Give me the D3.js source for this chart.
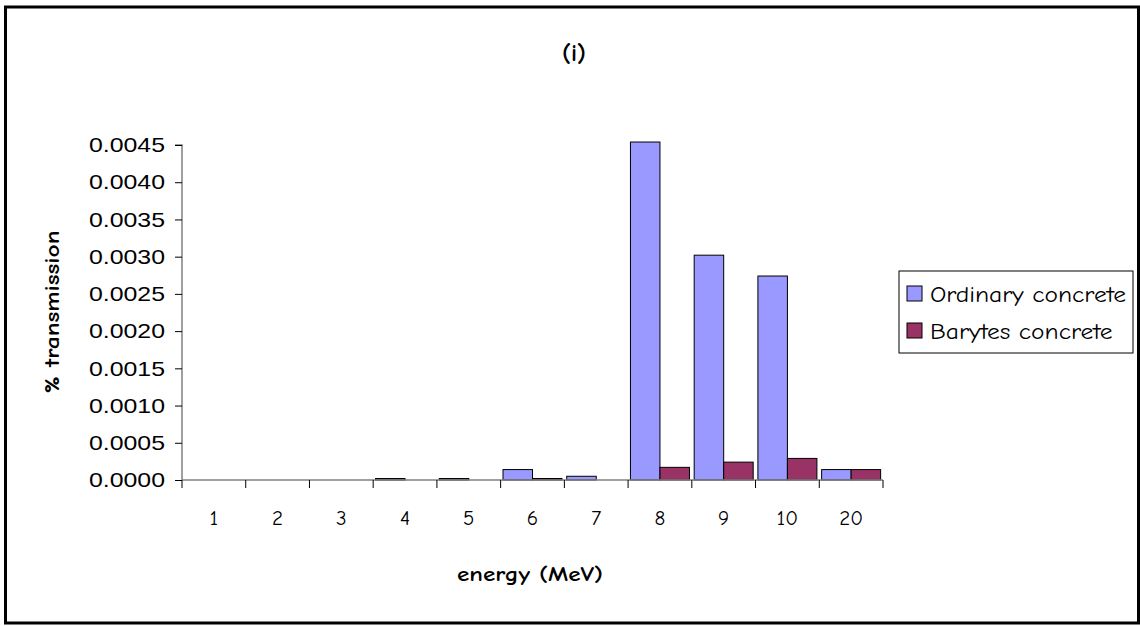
<!DOCTYPE html>
<html>
<head>
<meta charset="utf-8">
<script src="https://cdn.jsdelivr.net/npm/d3@7"></script>
<style>
  html, body { margin: 0; padding: 0; background: #fff; }
  svg { display: block; }
</style>
</head>
<body>
<svg id="chart" width="1140" height="626"></svg>
<script>
// Energy categories (MeV) and transmission values for the two concrete types
const energies = ["1", "2", "3", "4", "5", "6", "7", "8", "9", "10", "20"];
const ordinaryConcrete = [0, 0, 0, 0.00002, 0.00002, 0.00014, 0.00005, 0.00454, 0.00302, 0.00274, 0.00014];
const barytesConcrete  = [0, 0, 0, 0, 0, 0.00002, 0, 0.00017, 0.00024, 0.00029, 0.00014];
const seriesNames = ["Ordinary concrete", "Barytes concrete"];
const seriesColors = ["#9999FF", "#993366"];
const yTicks = [0, 0.0005, 0.001, 0.0015, 0.002, 0.0025, 0.003, 0.0035, 0.004, 0.0045];

const comic = "'Comic Sans MS', 'Comic Neue', 'Open Sans', sans-serif";
const arial = "'Liberation Sans', Arial, sans-serif";

const svg = d3.select("#chart");

// outer chart frame
svg.append("rect")
  .attr("x", 5.5).attr("y", 7).attr("width", 1133).attr("height", 616)
  .attr("fill", "#fff").attr("stroke", "#000").attr("stroke-width", 3);

const plot = { left: 182, right: 883, top: 145, bottom: 480 };

const x0 = d3.scaleBand().domain(energies).range([plot.left, plot.right]).padding(0);
const x1 = d3.scaleBand().domain(d3.range(seriesNames.length))
  .range([0, x0.bandwidth()]).paddingInner(0).paddingOuter(0.08);
const y = d3.scaleLinear().domain([0, 0.0045]).range([plot.bottom, plot.top]);

const rows = energies.map((e, i) => ({ e, vals: [ordinaryConcrete[i], barytesConcrete[i]] }));

// bars
const groups = svg.append("g").selectAll("g").data(rows).join("g")
  .attr("transform", d => `translate(${x0(d.e)},0)`);
groups.selectAll("rect").data(d => d.vals.map((v, k) => ({ v, k }))).join("rect")
  .filter(d => d.v > 0)
  .attr("x", d => x1(d.k))
  .attr("width", x1.bandwidth())
  .attr("y", d => y(d.v))
  .attr("height", d => plot.bottom - y(d.v))
  .attr("fill", d => seriesColors[d.k])
  .attr("stroke", "#000").attr("stroke-width", 1);

// y axis
const yAxis = d3.axisLeft(y).tickValues(yTicks).tickFormat(d3.format(".4f")).tickSize(7).tickPadding(10);
const gy = svg.append("g").attr("transform", `translate(${plot.left},0)`).call(yAxis);
gy.select(".domain").attr("stroke", "#808080").attr("stroke-width", 1.5)
  .attr("d", `M-7,${plot.top}H0V${plot.bottom}`);
gy.selectAll(".tick line").attr("stroke", "#000");
gy.selectAll(".tick text").attr("font-family", arial).attr("font-size", 21).attr("fill", "#000")
  .each(function () { d3.select(this).attr("textLength", 76).attr("lengthAdjust", "spacingAndGlyphs"); });

// x axis
const xAxis = d3.axisBottom(x0).tickSize(0).tickPadding(30);
const gx = svg.append("g").attr("transform", `translate(0,${plot.bottom})`).call(xAxis);
gx.select(".domain").attr("stroke", "#808080").attr("stroke-width", 1.5)
  .attr("d", `M${plot.left},0H${plot.right}`);
gx.selectAll(".tick text").attr("font-family", comic).attr("font-size", 21).attr("fill", "#000");
// tick marks at category boundaries
const bounds = energies.map(e => x0(e)).concat([plot.right]);
gx.selectAll("line.bound").data(bounds).join("line").attr("class", "bound")
  .attr("x1", d => d).attr("x2", d => d).attr("y1", 0).attr("y2", 8)
  .attr("stroke", "#000").attr("stroke-width", 1);

// title
svg.append("text").attr("x", 574).attr("y", 61).attr("text-anchor", "middle")
  .attr("font-family", comic).attr("font-weight", "bold").attr("font-size", 25).text("(i)");

// axis titles
svg.append("text").attr("x", 530).attr("y", 581).attr("text-anchor", "middle")
  .attr("font-family", comic).attr("font-weight", "bold").attr("font-size", 21)
  .attr("textLength", 146).attr("lengthAdjust", "spacingAndGlyphs").text("energy (MeV)");
svg.append("text").attr("transform", "translate(59,312) rotate(-90)").attr("text-anchor", "middle")
  .attr("font-family", comic).attr("font-weight", "bold").attr("font-size", 21)
  .attr("textLength", 163).attr("lengthAdjust", "spacingAndGlyphs").text("% transmission");

// legend
const lg = svg.append("g").attr("transform", "translate(899,271)");
lg.append("rect").attr("width", 234).attr("height", 82)
  .attr("fill", "#fff").attr("stroke", "#000").attr("stroke-width", 1);
const items = lg.selectAll("g").data(seriesNames).join("g")
  .attr("transform", (d, i) => `translate(8,${15 + i * 37})`);
items.append("rect").attr("width", 15).attr("height", 15)
  .attr("fill", (d, i) => seriesColors[i]).attr("stroke", "#000").attr("stroke-width", 1);
const legendText = items.append("text").attr("x", 23).attr("y", 16)
  .attr("font-family", comic).attr("font-size", 23).text(d => d);
// stretch both entries by the same factor so the longer one spans the box
const natural = legendText.nodes().map(n => n.getComputedTextLength());
const k = 196 / natural[0];
legendText.attr("textLength", (d, i) => natural[i] * k).attr("lengthAdjust", "spacingAndGlyphs");
</script>
</body>
</html>
